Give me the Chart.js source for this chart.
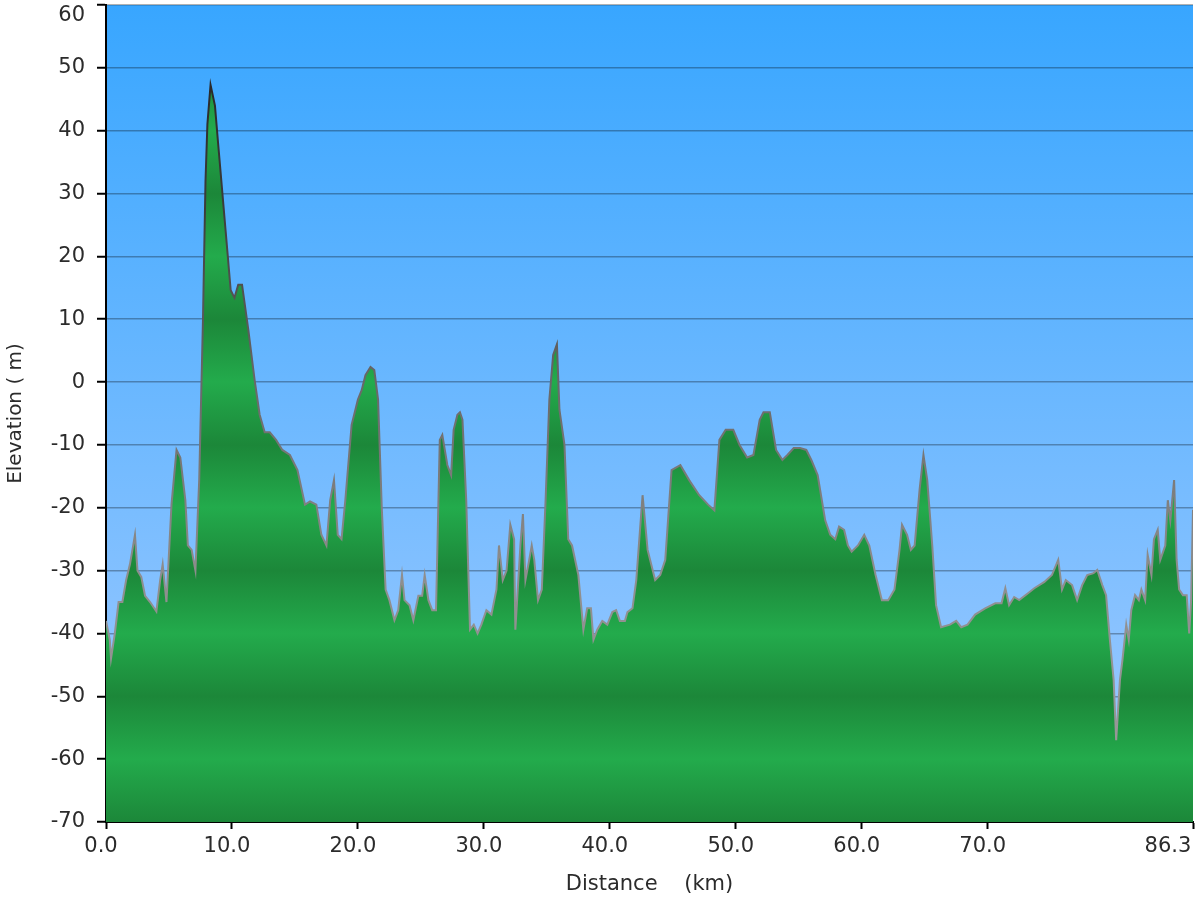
<!DOCTYPE html>
<html>
<head>
<meta charset="utf-8">
<title>Elevation profile</title>
<script src="https://cdn.jsdelivr.net/npm/chart.js@4.4.1/dist/chart.umd.min.js"></script>
<style>
    html, body { margin: 0; padding: 0; background: #fff; }
    #wrap { width: 1200px; height: 900px; position: relative; }
</style>
</head>
<body>
<div id="wrap"><canvas id="profileChart"></canvas></div>
<script>
// Distance along the route (km) and elevation (m)
const distanceKm = [
    0, 0.3, 0.4, 0.7, 1.0, 1.3, 1.6, 1.9, 2.3, 2.5, 2.8, 3.1, 3.5, 4.0, 4.3, 4.5, 4.8, 5.2, 5.6, 5.9,
    6.3, 6.5, 6.8, 7.1, 7.4, 7.7, 7.9, 8.05, 8.3, 8.65, 8.9, 9.2, 9.5, 9.9, 10.2, 10.5, 10.8, 11.3, 11.8, 12.2, 12.6, 13.0,
    13.5, 14.0, 14.6, 15.2, 15.8, 16.2, 16.7, 17.1, 17.5, 17.8, 18.1, 18.4, 18.7, 19.0, 19.5, 20.0, 20.3, 20.6, 21.0, 21.3,
    21.6, 21.9, 22.2, 22.5, 22.9, 23.2, 23.5, 23.7, 24.1, 24.4, 24.8, 25.1, 25.3, 25.6, 25.9, 26.2, 26.5, 26.7, 27.1, 27.4,
    27.6, 27.9, 28.1, 28.3, 28.6, 28.9, 29.2, 29.5, 29.8, 30.2, 30.6, 31.0, 31.2, 31.5, 31.8, 32.1, 32.4, 32.5, 32.9, 33.1,
    33.3, 33.6, 33.8, 34.0, 34.3, 34.6, 34.9, 35.2, 35.5, 35.8, 36.0, 36.4, 36.7, 37.0, 37.5, 37.9, 38.2, 38.5, 38.7, 39.0,
    39.4, 39.8, 40.2, 40.5, 40.8, 41.2, 41.4, 41.8, 42.1, 42.6, 43.0, 43.6, 44.0, 44.4, 44.9, 45.6, 46.3, 47.1, 47.8, 48.3,
    48.7, 49.2, 49.8, 50.3, 50.9, 51.4, 51.9, 52.2, 52.7, 53.2, 53.7, 54.1, 54.6, 55.1, 55.6, 56.0, 56.5, 57.1, 57.5, 57.9,
    58.2, 58.6, 58.9, 59.2, 59.7, 60.2, 60.6, 61.1, 61.6, 62.1, 62.6, 63.0, 63.2, 63.6, 63.9, 64.2, 64.6, 64.9, 65.2, 65.6,
    65.9, 66.3, 67.0, 67.5, 67.9, 68.4, 69.0, 69.8, 70.6, 71.1, 71.4, 71.7, 72.1, 72.5, 73.2, 73.7, 74.5, 75.1, 75.6, 75.9,
    76.2, 76.7, 77.1, 77.5, 77.9, 78.4, 78.7, 79.1, 79.4, 79.7, 80.0, 80.2, 80.5, 80.7, 81.0, 81.2, 81.4, 81.7, 82.0, 82.2,
    82.5, 82.7, 83.0, 83.2, 83.5, 83.7, 84.1, 84.3, 84.5, 84.8, 85.0, 85.2, 85.5, 85.8, 86.0, 86.15, 86.3
];
const elevationM = [
    -38, -41, -44, -40, -35, -35, -31.5, -29, -24.3, -30, -31, -34, -35, -36.5, -31.5, -29, -35, -19.5, -10.8, -12,
    -18.8, -26, -26.7, -30, -15.6, 10, 32, 41, 47.3, 44, 38, 31, 24, 14.6, 13.4, 15.5, 15.5, 8.3, 0.3, -5.2, -8, -8,
    -9.2, -10.8, -11.6, -14, -19.5, -19, -19.5, -24.3, -26, -18.8, -15.6, -24.3, -25, -18.8, -6.8, -2.8, -1.3, 1.1, 2.4, 1.9,
    -2.8, -20.3, -33, -34.7, -37.9, -36.3, -30.7, -34.7, -35.5, -37.9, -34, -34, -30.7, -34.7, -36.3, -36.3, -9.2, -8.4, -13.2, -14.8,
    -7.6, -5.2, -4.8, -6, -18.8, -39.4, -38.6, -40, -38.6, -36.3, -37, -33, -26, -31.5, -30, -22.7, -25, -39.4, -26, -21,
    -31.5, -28.3, -26, -28.3, -34.7, -33, -18.8, -2.8, 4.3, 6, -4.4, -10, -25, -26, -30.7, -39.4, -36, -36, -41, -39.4,
    -38, -38.6, -36.6, -36.3, -38, -38, -36.6, -36, -31.5, -18, -26.7, -31.5, -30.7, -28.3, -14, -13.2, -15.6, -18, -19.5, -20.4,
    -9.2, -7.6, -7.6, -10, -12, -11.6, -6, -4.8, -4.8, -10.8, -12.4, -11.6, -10.5, -10.5, -10.8, -12.4, -14.8, -22, -24.3, -25,
    -23, -23.5, -26, -27, -26, -24.3, -26, -30.7, -34.7, -34.7, -33, -26.7, -22.7, -24.3, -26.7, -26, -17, -11.6, -15.6, -26,
    -35.5, -39, -38.6, -38, -39, -38.6, -37, -36, -35.2, -35.2, -32.8, -35.5, -34.2, -34.7, -33.6, -32.8, -31.8, -30.7, -28.3, -33,
    -31.5, -32.3, -34.7, -32.3, -30.7, -30.4, -29.9, -32.3, -33.9, -41, -47.4, -57, -47.4, -44.2, -38.6, -41, -36.3, -33.9, -34.7, -33,
    -34.7, -27.5, -30.7, -25, -23.5, -28.3, -26, -18.8, -22, -15.6, -28.3, -33, -33.9, -33.9, -40, -34.7, -20.3
];

// Axis ticks
const xTicks = [0, 10, 20, 30, 40, 50, 60, 70, 86.3];
const yMin = -70;
const yMax = 60;
const yStep = 10;

const FONT = "'DejaVu Sans', Verdana, sans-serif";
const GREEN_LIGHT = '#23ab4c';
const GREEN_DARK = '#1c8739';

// Sky gradient behind the plot
const plotBackground = {
    id: 'plotBackground',
    beforeDraw(chart) {
        const { ctx, chartArea: a } = chart;
        if (!a) return;
        const g = ctx.createLinearGradient(0, a.top, 0, a.bottom);
        g.addColorStop(0, '#38a6ff');
        g.addColorStop(1, '#a2cbff');
        ctx.save();
        ctx.fillStyle = g;
        ctx.fillRect(a.left, a.top, a.right - a.left, a.bottom - a.top);
        ctx.restore();
    }
};

// Banded green fill, light on even tens, dark on odd tens
function bandedFill(context) {
    const chart = context.chart;
    if (!chart.chartArea) return GREEN_LIGHT;
    const y = chart.scales.y;
    const top = y.getPixelForValue(yMax);
    const bottom = y.getPixelForValue(yMin);
    const g = chart.ctx.createLinearGradient(0, top, 0, bottom);
    for (let v = yMax; v >= yMin; v -= yStep) {
        const stop = (yMax - v) / (yMax - yMin);
        g.addColorStop(stop, Math.abs(v / yStep) % 2 === 0 ? GREEN_LIGHT : GREEN_DARK);
    }
    return g;
}

// Outline gets darker toward the peaks
function outlineColor(context) {
    const chart = context.chart;
    if (!chart.chartArea) return '#888';
    const y = chart.scales.y;
    const g = chart.ctx.createLinearGradient(0, y.getPixelForValue(yMax), 0, y.getPixelForValue(yMin));
    g.addColorStop(0, '#1e1e1e');
    g.addColorStop(0.25, '#3c3c3c');
    g.addColorStop(0.45, '#666');
    g.addColorStop(0.7, '#8e8e8e');
    g.addColorStop(1, '#9c9c9c');
    return g;
}

const ctx = document.getElementById('profileChart').getContext('2d');

new Chart(ctx, {
    type: 'line',
    data: {
        datasets: [{
            label: 'Elevation',
            data: distanceKm.map((d, i) => ({ x: d, y: elevationM[i] })),
            borderColor: outlineColor,
            backgroundColor: bandedFill,
            borderWidth: 2,
            pointRadius: 0,
            tension: 0,
            fill: 'start'
        }]
    },
    plugins: [plotBackground],
    options: {
        responsive: true,
        maintainAspectRatio: false,
        animation: false,
        layout: { padding: { top: 5, right: 7, left: 0, bottom: 0 } },
        plugins: {
            legend: { display: false },
            tooltip: { enabled: false }
        },
        scales: {
            x: {
                type: 'linear',
                min: 0,
                max: 86.3,
                z: 1,
                afterBuildTicks: (scale) => { scale.ticks = xTicks.map(v => ({ value: v })); },
                afterFit: (scale) => {
                    scale.height = 78;
                    scale.paddingLeft = 0;
                    scale.paddingRight = 0;
                },
                border: { display: true, color: '#000', width: 2 },
                grid: {
                    drawOnChartArea: false,
                    drawTicks: true,
                    tickLength: 7,
                    tickColor: '#000',
                    tickWidth: 2
                },
                ticks: {
                    autoSkip: false,
                    maxRotation: 0,
                    padding: 5,
                    labelOffset: -5,
                    color: '#2b2b2b',
                    font: { family: FONT, size: 21 },
                    // last label is pushed left so it stays inside the canvas
                    callback: (v) => v === 86.3 ? v.toFixed(1) + '\u2007\u2007\u2007' : v.toFixed(1)
                },
                title: {
                    display: true,
                    text: 'Distance    (km)',
                    color: '#2b2b2b',
                    font: { family: FONT, size: 21 },
                    padding: { top: 0, bottom: 3 }
                }
            },
            y: {
                min: yMin,
                max: yMax,
                z: 1,
                afterFit: (scale) => {
                    scale.width = 106;
                    scale.paddingTop = 0;
                    scale.paddingBottom = 0;
                },
                border: { display: true, color: '#000', width: 2 },
                grid: {
                    color: 'rgba(0, 0, 0, 0.3)',
                    lineWidth: 1.5,
                    drawTicks: true,
                    tickLength: 9,
                    tickColor: '#000',
                    tickWidth: 2
                },
                ticks: {
                    stepSize: yStep,
                    padding: 12,
                    color: '#2b2b2b',
                    font: { family: FONT, size: 21, lineHeight: 1 },
                    // top label sits just under its tick
                    callback: (v) => v === yMax ? ['', String(v)] : String(v)
                },
                title: {
                    display: true,
                    text: 'Elevation ( m)',
                    color: '#2b2b2b',
                    font: { family: FONT, size: 20 },
                    padding: { top: 4, bottom: 0 }
                }
            }
        }
    }
});
</script>
</body>
</html>
